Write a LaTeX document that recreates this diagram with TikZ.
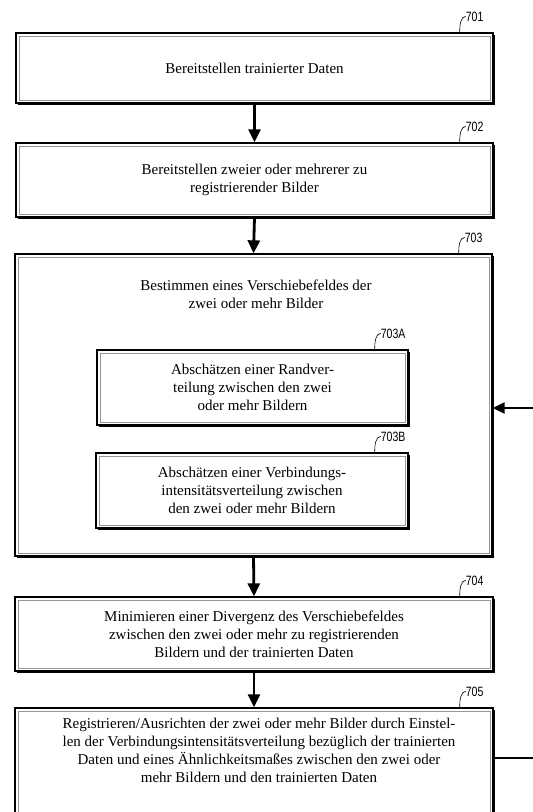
\documentclass[tikz,border=0pt]{standalone}
\usepackage{fontspec}
\setmainfont{Liberation Serif}
\newfontfamily\reffont[FakeStretch=0.78]{Liberation Sans}
\usepackage{tikz}
\usetikzlibrary{arrows.meta, positioning, shadows, calc}
\definecolor{InnerGray}{RGB}{150,150,150}

\tikzset{
  stepbox/.style={draw=black, line width=1.3pt, fill=white, inner sep=0pt,
    font=\fontsize{15}{18}\selectfont, align=center,
    drop shadow={shadow xshift=2.2pt, shadow yshift=-2.2pt, fill=black, opacity=1},
    path picture={\draw[InnerGray, line width=0.7pt]
      ([shift={(3pt,-3pt)}]path picture bounding box.north west) rectangle
      ([shift={(-3pt,3pt)}]path picture bounding box.south east);}},
  steptext/.style={font=\fontsize{15}{18}\selectfont, align=center, inner sep=0pt},
  reflabel/.style={font=\reffont\fontsize{13.5}{13.5}\selectfont, inner sep=0pt, anchor=west},
  hook/.style={line width=0.6pt},
  flow/.style={line width=2.8pt, -{Triangle[length=13pt, width=12pt]}},
  back/.style={line width=2.2pt, -{Triangle[length=12pt, width=11pt]}}
}

\begin{document}
\begin{tikzpicture}[x=1pt, y=-1pt]
\useasboundingbox (0,0) rectangle (533,812);

% main steps
\node[stepbox, minimum width=477pt, minimum height=70pt] (s701) at (254.5,68)
  {Bereitstellen trainierter Daten};
\node[stepbox, minimum width=477pt, minimum height=74pt] (s702) at (254.5,180)
  {Bereitstellen zweier oder mehrerer zu\\registrierender Bilder};
\node[stepbox, minimum width=477pt, minimum height=302pt] (s703) at (253.5,405) {};
\node[steptext] (t703) at (256,294)
  {Bestimmen eines Verschiebefeldes der\\zwei oder mehr Bilder};
\node[stepbox, minimum width=311pt, minimum height=75pt] (s703A) at (252.5,387.5)
  {Abschätzen einer Randver-\\teilung zwischen den zwei\\oder mehr Bildern};
\node[stepbox, minimum width=312pt, minimum height=75pt] (s703B) at (252,490.5)
  {Abschätzen einer Verbindungs-\\intensitätsverteilung zwischen\\den zwei oder mehr Bildern};
\node[stepbox, minimum width=478pt, minimum height=74pt] (s704) at (254,634)
  {Minimieren einer Divergenz des Verschiebefeldes\\zwischen den zwei oder mehr zu registrierenden\\Bildern und der trainierten Daten};
\node[stepbox, minimum width=478pt, minimum height=112pt] (s705) at (254,764) {};
\node[steptext] (t705) at (259,750)
  {Registrieren/Ausrichten der zwei oder mehr Bilder durch Einstel-\\len der Verbindungsintensitätsverteilung bezüglich der trainierten\\Daten und eines Ähnlichkeitsmaßes zwischen den zwei oder\\mehr Bildern und den trainierten Daten};

% reference numbers
\foreach \b/\t in {s701/701, s702/702, s703/703, s703A/703A, s703B/703B, s704/704, s705/705} {
  \node[reflabel] (l\t) at ($(\b.north east)+(-28,-16)$) {\t};
  \draw[hook] (l\t.west) .. controls +(-5,0) and +(0,-7) .. ($(l\t.west |- \b.north)+(-6,0)$);
}

% flow
\draw[flow] (s701.south) -- (s702.north);
\draw[flow] (s702.south) -- (s703.north);
\draw[flow] (s703.south) -- (s704.north);
\draw[flow] (s704.south) -- (s705.north);

% loop back
\coordinate (fblow) at (534,758);
\coordinate (fbhigh) at (534,408);
\draw[back] (s705.east |- fblow) -- (fblow) -- (fbhigh) -- (s703.east |- fbhigh);
\end{tikzpicture}
\end{document}
